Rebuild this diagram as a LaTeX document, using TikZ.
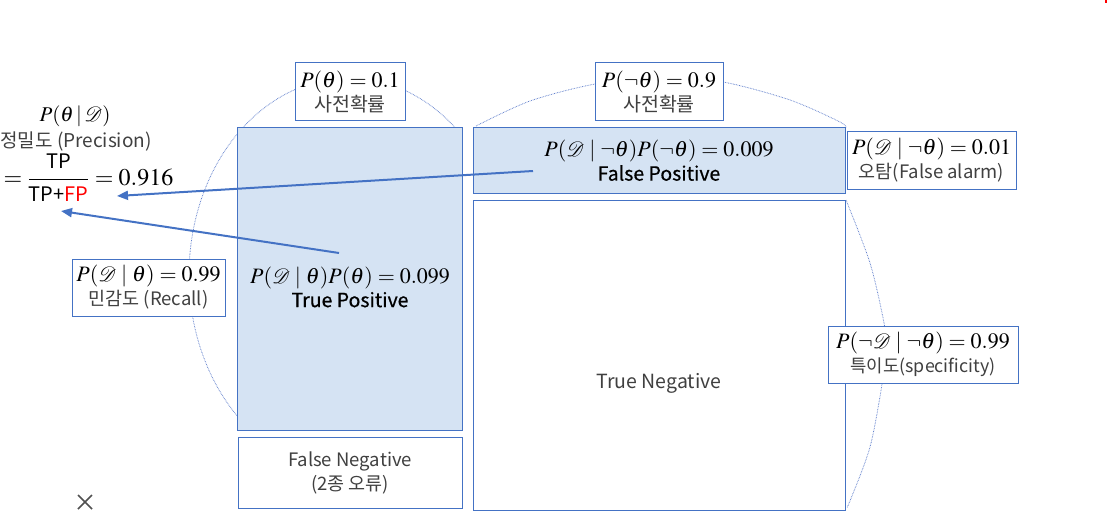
\documentclass[tikz,border=0pt]{standalone}
\usepackage{mathptmx}
\usepackage{mathrsfs}
\usepackage[no-math]{fontspec}
\newfontfamily\kr{Noto Sans CJK KR}
\newfontfamily\krb[FakeBold=0.6]{Noto Sans CJK KR}
\usetikzlibrary{arrows.meta}
\definecolor{bblue}{RGB}{68,114,196}
\definecolor{bfill}{RGB}{213,227,243}
\definecolor{tgray}{RGB}{64,64,64}
\definecolor{arcc}{RGB}{100,130,205}
\definecolor{xgray}{RGB}{80,80,80}
\newcommand{\mD}{\mathscr{D}}
\newcommand{\ms}{\fontsize{22}{24}\selectfont}
\newcommand{\bl}{\krb\fontsize{19.5}{24}\selectfont}
\begin{document}
\begin{tikzpicture}[x=1pt,y=-1pt,
  txt/.style={inner sep=0pt, align=center, font=\kr\fontsize{18.5}{24}\selectfont},
  box/.style={txt, draw=bblue, line width=1pt, fill=white},
  fbox/.style={box, fill=bfill},
  arcline/.style={draw=arcc, line width=0.8pt, dash pattern=on 0.7pt off 0.9pt},
  arr/.style={draw=bblue, line width=2pt, -{Triangle[length=11pt,width=9pt]}}]
\useasboundingbox (0,0) rectangle (1107,513);
% dotted arcs
\draw[arcline] plot[domain=47:230, samples=80, smooth] ({349+160*cos(\x)},{275-197*sin(\x)});
\draw[arcline] plot[smooth] coordinates {(476,126) (530,101) (595,84) (660,77) (723,82) (790,100) (840,122) (846,128)};
\draw[arcline] plot[smooth] coordinates {(846,200) (870,263) (884,323) (886,348) (884,372) (870,447) (847,508)};
% boxes
\node[box, minimum width=110, minimum height=58] (pth) at (350,92)
  {{\ms$P(\theta)=0.1$}\\{\color{tgray}\fontsize{19.5}{24}\selectfont 사전확률}};
\node[box, minimum width=128, minimum height=58] (pnth) at (659,92)
  {{\ms$P(\neg\theta)=0.9$}\\{\color{tgray}\fontsize{19.5}{24}\selectfont 사전확률}};
\node[fbox, minimum width=225, minimum height=302] (tp) at (349.5,279) {};
\node[txt] (tptxt) at (350,287) {{\ms$P(\mD\mid\theta)P(\theta)=0.099$}\\{\bl True Positive}};
\node[box, text=tgray, minimum width=224, minimum height=71] (fn) at (350,472.5)
  {False Negative\\(2종 오류)};
\node[fbox, minimum width=372, minimum height=65] (fp) at (659,160.5)
  {{\ms$P(\mD\mid\neg\theta)P(\neg\theta)=0.009$}\\{\bl False Positive}};
\node[box, minimum width=372, minimum height=310] (tn) at (659,355) {};
\node[txt, text=tgray, font=\kr\fontsize{19.5}{24}\selectfont] (tntxt) at (659,383) {True Negative};
\node[box, minimum width=169, minimum height=57] (fa) at (931.5,160.5)
  {{\ms$P(\mD\mid\neg\theta)=0.01$}\\{\color{tgray}오탐(False alarm)}};
\node[box, minimum width=153, minimum height=57] (rc) at (148.5,287.5)
  {{\ms$P(\mD\mid\theta)=0.99$}\\{\color{tgray}민감도 (Recall)}};
\node[box, minimum width=190, minimum height=57] (sp) at (923,354.5)
  {{\ms$P(\neg\mD\mid\neg\theta)=0.99$}\\{\color{tgray}\fontsize{17.8}{24}\selectfont 특이도(specificity)}};
% precision formula
\node[txt] (post) at (75,116) {\fontsize{21}{24}\selectfont$P(\theta\,|\,\mD)$};
\node[txt, text=tgray, font=\kr\fontsize{19}{24}\selectfont] (prec) at (76,142) {정밀도 (Precision)};
\node[txt] (frac) at (88.5,178) {\fontsize{24}{26}\selectfont$\displaystyle=\frac{\mbox{\kr\fontsize{20}{20}\selectfont TP}}{\mbox{\kr\fontsize{20}{20}\selectfont TP+\textcolor{red}{FP}}}=0.916$};
% arrows
\coordinate (fpA) at (533,171);
\coordinate (fpB) at (117,196);
\coordinate (tpA) at (339,253);
\coordinate (tpB) at (61,211);
\draw[arr] (fpA) -- (fpB);
\draw[arr] (tpA) -- (tpB);
% close mark and red dot
\draw[xgray, line width=1.6pt] (78,495) -- (92,509) (78,509) -- (92,495);
\fill[red] (1104.5,0) rectangle (1107,3);
\end{tikzpicture}
\end{document}
